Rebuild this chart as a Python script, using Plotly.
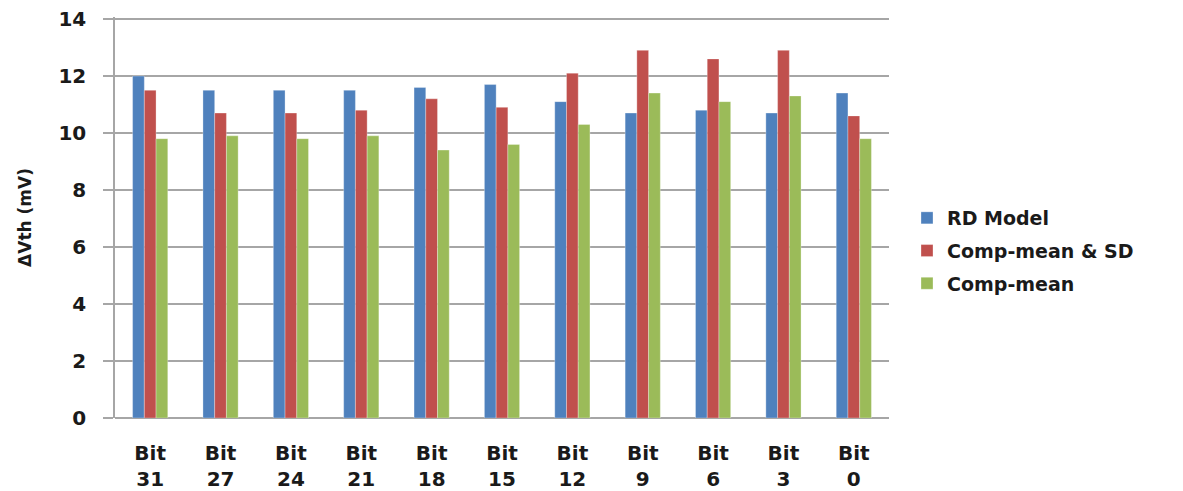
import plotly.graph_objects as go

categories = ["Bit<br>31", "Bit<br>27", "Bit<br>24", "Bit<br>21", "Bit<br>18", "Bit<br>15",
              "Bit<br>12", "Bit<br>9", "Bit<br>6", "Bit<br>3", "Bit<br>0"]
rd_model = [12.0, 11.5, 11.5, 11.5, 11.6, 11.7, 11.1, 10.7, 10.8, 10.7, 11.4]
comp_mean_sd = [11.5, 10.7, 10.7, 10.8, 11.2, 10.9, 12.1, 12.9, 12.6, 12.9, 10.6]
comp_mean = [9.8, 9.9, 9.8, 9.9, 9.4, 9.6, 10.3, 11.4, 11.1, 11.3, 9.8]
y_ticks = [0, 2, 4, 6, 8, 10, 12, 14]

series = [
    ("RD Model", rd_model, "#4F81BD"),
    ("Comp-mean & SD", comp_mean_sd, "#C0504D"),
    ("Comp-mean", comp_mean, "#9BBB59"),
]

FONT = "DejaVu Sans"
TXT = "#1a1a1a"
W, H = 1175, 483  # page body adds an 8px margin

fig = go.Figure()
for i, (name, vals, col) in enumerate(series):
    fig.add_trace(go.Bar(
        x=categories, y=vals, name=name,
        marker=dict(color=col, line=dict(color="rgba(255,255,255,0.6)", width=0.5)),
        legendgroup=f"g{i}",
    ))

fig.update_layout(
    width=W, height=H,
    margin=dict(l=107, r=W - 881, t=9, b=H - 410, autoexpand=False),
    paper_bgcolor="white", plot_bgcolor="white",
    barmode="group", bargap=0.5, bargroupgap=0,
    showlegend=True,
    legend=dict(
        xref="container", yref="container",
        x=899 / W, y=1 - 191 / H, xanchor="left", yanchor="top",
        font=dict(family=FONT, size=19, color=TXT, weight="bold"),
        tracegroupgap=5, bgcolor="rgba(0,0,0,0)",
    ),
    xaxis=dict(
        automargin=False,
        showgrid=False, showline=False, ticks="",
        tickfont=dict(family=FONT, size=20, color=TXT, weight="bold"),
        ticklabelstandoff=21,
    ),
    yaxis=dict(
        automargin=False,
        range=[0, 14.07], tickmode="array", tickvals=y_ticks,
        ticklabeloverflow="allow",
        showgrid=True, gridcolor="#A6A6A6", gridwidth=1.5,
        showline=True, linecolor="#A6A6A6", linewidth=1.5,
        ticks="outside", ticklen=10, tickcolor="#A6A6A6", tickwidth=1.5,
        zeroline=True, zerolinecolor="#A6A6A6", zerolinewidth=1.5,
        tickfont=dict(family=FONT, size=20, color=TXT, weight="bold"),
        ticklabelstandoff=13,
        title=dict(text="ΔVth (mV)", font=dict(family=FONT, size=17, color=TXT, weight="bold"),
                   standoff=22),
    ),
)

fig.write_html("out.html")
